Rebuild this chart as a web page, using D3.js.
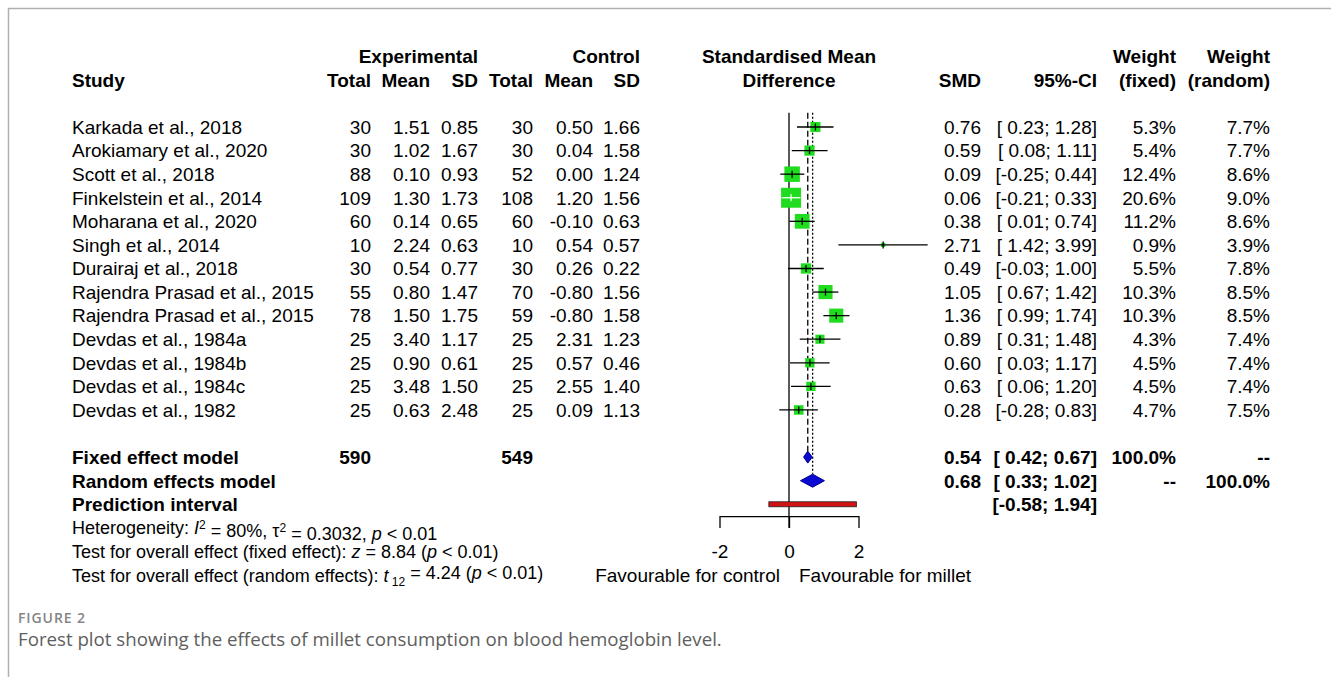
<!DOCTYPE html>
<html>
<head>
<meta charset="utf-8">
<script src="https://cdn.jsdelivr.net/npm/d3@7"></script>
<style>
  body { margin: 0; background: #fff; }
  text { font-family: "Liberation Sans", Arial, sans-serif; fill: #000; }
</style>
</head>
<body>
<svg id="chart" width="1331" height="677"></svg>
<script>
// data
var studies = ["Karkada et al., 2018", "Arokiamary et al., 2020", "Scott et al., 2018", "Finkelstein et al., 2014",
    "Moharana et al., 2020", "Singh et al., 2014", "Durairaj et al., 2018", "Rajendra Prasad et al., 2015",
    "Rajendra Prasad et al., 2015", "Devdas et al., 1984a", "Devdas et al., 1984b", "Devdas et al., 1984c", "Devdas et al., 1982"];
var expTotal = [30, 30, 88, 109, 60, 10, 30, 55, 78, 25, 25, 25, 25];
var expMean = ["1.51", "1.02", "0.10", "1.30", "0.14", "2.24", "0.54", "0.80", "1.50", "3.40", "0.90", "3.48", "0.63"];
var expSD = ["0.85", "1.67", "0.93", "1.73", "0.65", "0.63", "0.77", "1.47", "1.75", "1.17", "0.61", "1.50", "2.48"];
var ctrlTotal = [30, 30, 52, 108, 60, 10, 30, 70, 59, 25, 25, 25, 25];
var ctrlMean = ["0.50", "0.04", "0.00", "1.20", "-0.10", "0.54", "0.26", "-0.80", "-0.80", "2.31", "0.57", "2.55", "0.09"];
var ctrlSD = ["1.66", "1.58", "1.24", "1.56", "0.63", "0.57", "0.22", "1.56", "1.58", "1.23", "0.46", "1.40", "1.13"];
var smd = [0.76, 0.59, 0.09, 0.06, 0.38, 2.71, 0.49, 1.05, 1.36, 0.89, 0.60, 0.63, 0.28];
var ciLow = [0.23, 0.08, -0.25, -0.21, 0.01, 1.42, -0.03, 0.67, 0.99, 0.31, 0.03, 0.06, -0.28];
var ciHigh = [1.28, 1.11, 0.44, 0.33, 0.74, 3.99, 1.00, 1.42, 1.74, 1.48, 1.17, 1.20, 0.83];
var wFixed = [5.3, 5.4, 12.4, 20.6, 11.2, 0.9, 5.5, 10.3, 10.3, 4.3, 4.5, 4.5, 4.7];
var wRandom = [7.7, 7.7, 8.6, 9.0, 8.6, 3.9, 7.8, 8.5, 8.5, 7.4, 7.4, 7.4, 7.5];

var fixedModel = [0.54, 0.42, 0.67];
var randomModel = [0.68, 0.33, 1.02];
var predInterval = [-0.58, 1.94];
var totals = [590, 549];
var xTicks = [-2, 0, 2];

var svg = d3.select("#chart");

// frame of the figure
svg.append("path")
    .attr("d", "M8.5,677 V8.5 H1331")
    .attr("fill", "none")
    .attr("stroke", "#b0b0b0")
    .attr("stroke-width", 1.5);

var x = d3.scaleLinear().domain([-2, 2]).range([719.5, 858.5]);
var row = d3.scaleLinear().domain([0, 1]).range([127, 150.58]);
var fs = 19;

var col = {study: 72, eT: 371, eM: 430, eS: 478, cT: 533, cM: 593, cS: 640, smd: 981, ci: 1097, wf: 1176, wr: 1270};

function txt(xp, r, s, anchor, bold, size)
{
    return svg.append("text")
	.attr("x", xp)
	.attr("y", row(r))
	.attr("dy", "0.36em")
	.attr("text-anchor", anchor || "end")
	.style("font-size", (size || fs) + "px")
	.style("font-weight", bold ? "bold" : "normal")
	.style("white-space", "pre")
	.text(s);
}

function fmtCI(lo, hi)
{
    let a = lo < 0 ? lo.toFixed(2) : " " + lo.toFixed(2);
    let b = hi < 0 ? hi.toFixed(2) : " " + hi.toFixed(2);
    return "[" + a + ";" + b + "]";
}

// headers
txt(col.eS, -3, "Experimental", "end", true);
txt(col.cS, -3, "Control", "end", true);
txt(x(0), -3, "Standardised Mean", "middle", true);
txt(x(0), -2, "Difference", "middle", true);
txt(col.wf, -3, "Weight", "end", true);
txt(col.wr, -3, "Weight", "end", true);
txt(col.study, -2, "Study", "start", true);
[["eT", "Total"], ["eM", "Mean"], ["eS", "SD"], ["cT", "Total"], ["cM", "Mean"], ["cS", "SD"],
 ["smd", "SMD"], ["ci", "95%-CI"], ["wf", "(fixed)"], ["wr", "(random)"]].forEach(function(h) {
    txt(col[h[0]], -2, h[1], "end", true);
});

// study rows
for (let i = 0; i < studies.length; i++)
{
    txt(col.study, i, studies[i], "start");
    txt(col.eT, i, expTotal[i]);
    txt(col.eM, i, expMean[i]);
    txt(col.eS, i, expSD[i]);
    txt(col.cT, i, ctrlTotal[i]);
    txt(col.cM, i, ctrlMean[i]);
    txt(col.cS, i, ctrlSD[i]);
    txt(col.smd, i, smd[i].toFixed(2));
    txt(col.ci, i, fmtCI(ciLow[i], ciHigh[i]));
    txt(col.wf, i, wFixed[i].toFixed(1) + "%");
    txt(col.wr, i, wRandom[i].toFixed(1) + "%");
}

// summary rows
var rF = 14, rR = 15, rP = 16;
txt(col.study, rF, "Fixed effect model", "start", true);
txt(col.eT, rF, totals[0], "end", true);
txt(col.cT, rF, totals[1], "end", true);
txt(col.smd, rF, fixedModel[0].toFixed(2), "end", true);
txt(col.ci, rF, fmtCI(fixedModel[1], fixedModel[2]), "end", true);
txt(col.wf, rF, "100.0%", "end", true);
txt(col.wr, rF, "--", "end", true);

txt(col.study, rR, "Random effects model", "start", true);
txt(col.smd, rR, randomModel[0].toFixed(2), "end", true);
txt(col.ci, rR, fmtCI(randomModel[1], randomModel[2]), "end", true);
txt(col.wf, rR, "--", "end", true);
txt(col.wr, rR, "100.0%", "end", true);

txt(col.study, rP, "Prediction interval", "start", true);
txt(col.ci, rP, fmtCI(predInterval[0], predInterval[1]), "end", true);

// heterogeneity and tests
var small = 18;
var h1 = txt(col.study, 17, "", "start", false, small);
h1.append("tspan").text("Heterogeneity: ");
h1.append("tspan").style("font-style", "italic").text("I");
h1.append("tspan").attr("dy", "-0.45em").style("font-size", "12px").text("2");
h1.append("tspan").attr("dy", "0.45em").text(" = 80%, \u03c4");
h1.append("tspan").attr("dy", "-0.45em").style("font-size", "12px").text("2");
h1.append("tspan").attr("dy", "0.45em").text(" = 0.3032, ");
h1.append("tspan").style("font-style", "italic").text("p");
h1.append("tspan").text(" < 0.01");

var h2 = txt(col.study, 18, "", "start", false, small);
h2.append("tspan").text("Test for overall effect (fixed effect): ");
h2.append("tspan").style("font-style", "italic").text("z");
h2.append("tspan").text(" = 8.84 (");
h2.append("tspan").style("font-style", "italic").text("p");
h2.append("tspan").text(" < 0.01)");

var h3 = txt(col.study, 19, "", "start", false, small);
h3.append("tspan").text("Test for overall effect (random effects): ");
h3.append("tspan").style("font-style", "italic").text("t");
h3.append("tspan").attr("dy", "0.35em").style("font-size", "12px").text(" 12");
h3.append("tspan").attr("dy", "-0.35em").text(" = 4.24 (");
h3.append("tspan").style("font-style", "italic").text("p");
h3.append("tspan").text(" < 0.01)");

// reference lines
var plot = svg.append("g");
plot.append("line")
    .attr("x1", x(0)).attr("x2", x(0))
    .attr("y1", row(-0.6)).attr("y2", row(17))
    .attr("stroke", "#000").attr("stroke-width", 1.3);
plot.append("line")
    .attr("x1", x(fixedModel[0])).attr("x2", x(fixedModel[0]))
    .attr("y1", row(-0.6)).attr("y2", row(rF) - 6)
    .attr("stroke", "#000").attr("stroke-width", 1.3)
    .attr("stroke-dasharray", "6,3");
plot.append("line")
    .attr("x1", x(randomModel[0])).attr("x2", x(randomModel[0]))
    .attr("y1", row(-0.6)).attr("y2", row(rR) - 7)
    .attr("stroke", "#000").attr("stroke-width", 1.3)
    .attr("stroke-dasharray", "2,2");

// study squares and CIs
var sq = 4.4;
var marks = plot.selectAll("g.study").data(d3.range(studies.length)).enter().append("g");
marks.append("rect")
    .attr("x", i => x(smd[i]) - sq * Math.sqrt(wFixed[i]) / 2)
    .attr("y", i => row(i) - sq * Math.sqrt(wFixed[i]) / 2)
    .attr("width", i => sq * Math.sqrt(wFixed[i]))
    .attr("height", i => sq * Math.sqrt(wFixed[i]))
    .attr("fill", "#1fdc1f");
function inside(i) { return x(ciHigh[i]) - x(ciLow[i]) < sq * Math.sqrt(wFixed[i]); }
marks.append("line")
    .attr("x1", i => x(ciLow[i])).attr("x2", i => x(ciHigh[i]))
    .attr("y1", i => row(i)).attr("y2", i => row(i))
    .attr("stroke", i => inside(i) ? "#fff" : "#000").attr("stroke-width", 1.3);
marks.append("line")
    .attr("x1", i => x(smd[i])).attr("x2", i => x(smd[i]))
    .attr("y1", i => row(i) - 3.5).attr("y2", i => row(i) + 3.5)
    .attr("stroke", i => inside(i) ? "#fff" : "#000").attr("stroke-width", 1.3);

// diamonds
function diamond(m, r, h)
{
    let y = row(r);
    return "M" + x(m[1]) + "," + y + "L" + x(m[0]) + "," + (y - h) + "L" + x(m[2]) + "," + y +
	"L" + x(m[0]) + "," + (y + h) + "Z";
}
plot.append("path").attr("d", diamond(fixedModel, rF, 6))
    .attr("fill", "#0a0ad2").attr("stroke", "#00008a").attr("stroke-width", 1);
plot.append("path").attr("d", diamond(randomModel, rR, 6.5))
    .attr("fill", "#0a0ad2").attr("stroke", "#00008a").attr("stroke-width", 1);

// prediction interval
plot.append("rect")
    .attr("x", x(predInterval[0])).attr("y", row(rP) - 2.5)
    .attr("width", x(predInterval[1]) - x(predInterval[0])).attr("height", 5)
    .attr("fill", "#d11313").attr("stroke", "#222").attr("stroke-width", 0.8);

// axis
var axis = svg.append("g")
    .attr("transform", "translate(0," + row(16.5) + ")")
    .call(d3.axisBottom(x).tickValues(xTicks).tickFormat(d3.format("d")).tickSize(12).tickSizeOuter(0).tickPadding(16));
axis.selectAll("path, line").attr("stroke", "#000").attr("stroke-width", 1.3);
axis.selectAll("text")
    .style("font-family", "Liberation Sans, Arial, sans-serif")
    .style("font-size", fs + "px")
    .attr("fill", "#000")
    .text(d => d < 0 ? "-" + Math.abs(d) : d);

txt(x(0) - 9, 19, "Favourable for control", "end");
txt(x(0) + 10, 19, "Favourable for millet", "start");

// caption
svg.append("text")
    .attr("x", 18).attr("y", 622.5)
    .style("font-family", "Open Sans, sans-serif")
    .style("font-size", "14px")
    .style("font-weight", "600")
    .style("letter-spacing", "0.9px")
    .style("fill", "#858585")
    .text("FIGURE 2");
svg.append("text")
    .attr("x", 18).attr("y", 646)
    .style("font-family", "Open Sans, sans-serif")
    .style("font-size", "18.7px")
    .style("font-weight", "400")
    .style("fill", "#5e5e5e")
    .text("Forest plot showing the effects of millet consumption on blood hemoglobin level.");
</script>
</body>
</html>
